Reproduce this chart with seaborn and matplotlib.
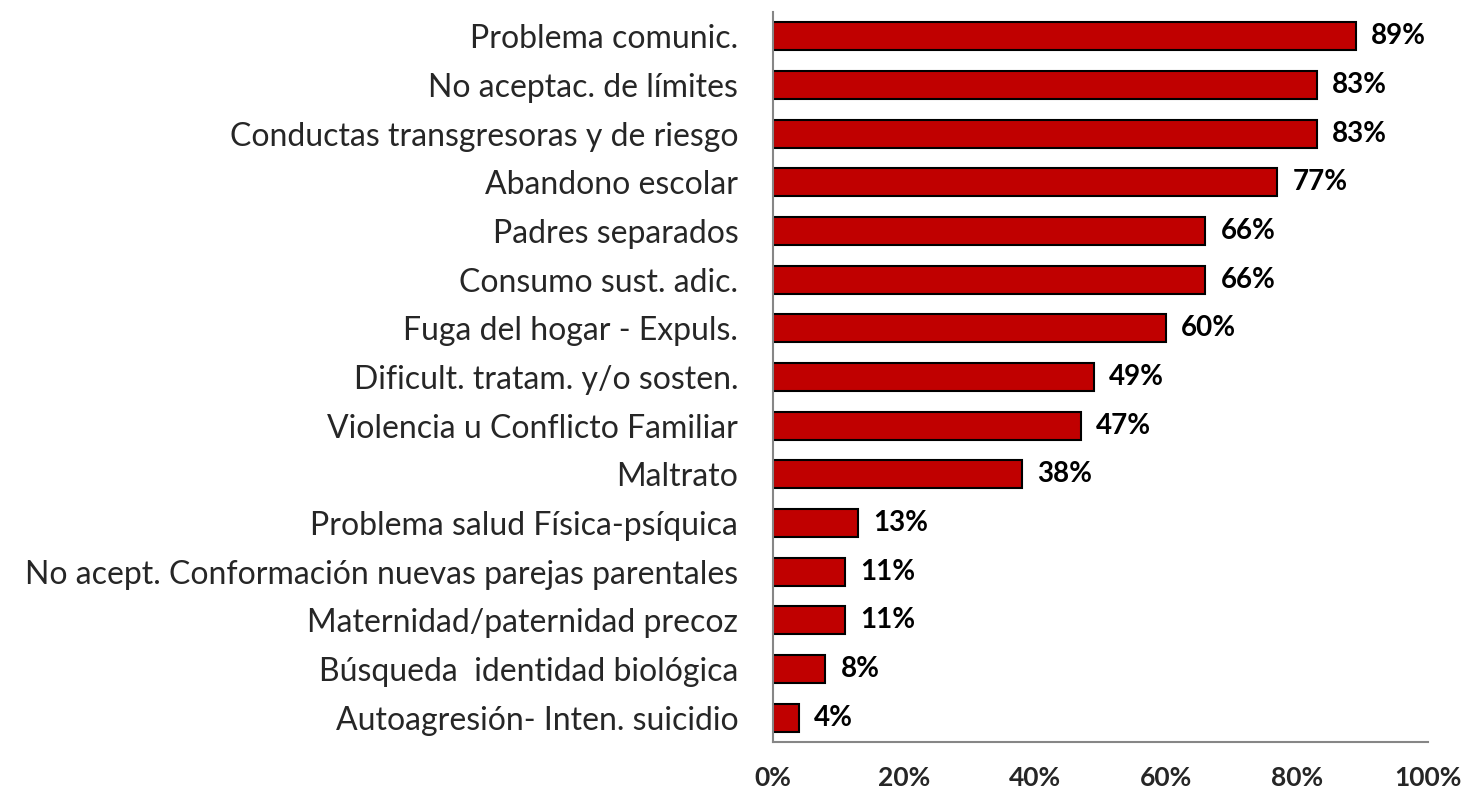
import matplotlib
matplotlib.use('Agg')
import matplotlib.pyplot as plt
import seaborn as sns
import pandas as pd

# Data
categories = [
    'Problema comunic.',
    'No aceptac. de límites',
    'Conductas transgresoras y de riesgo',
    'Abandono escolar',
    'Padres separados',
    'Consumo sust. adic.',
    'Fuga del hogar - Expuls.',
    'Dificult. tratam. y/o sosten.',
    'Violencia u Conflicto Familiar',
    'Maltrato',
    'Problema salud Física-psíquica',
    'No acept. Conformación nuevas parejas parentales',
    'Maternidad/paternidad precoz',
    'Búsqueda  identidad biológica',
    'Autoagresión- Inten. suicidio',
]
values = [89, 83, 83, 77, 66, 66, 60, 49, 47, 38, 13, 11, 11, 8, 4]
tick_vals = [0, 20, 40, 60, 80, 100]

df = pd.DataFrame({'cat': categories, 'val': values})

sns.set_style('white')
plt.rcParams['font.family'] = ['Lato', 'DejaVu Sans']

fig = plt.figure(figsize=(14.68, 7.96), dpi=100)
ax = fig.add_axes([0.5266, 0.0678, 0.4462, 0.9172])

sns.barplot(data=df, x='val', y='cat', color='#C00000', saturation=1,
            edgecolor='black', linewidth=1.5, width=0.58, ax=ax, orient='h')

for i, v in enumerate(values):
    ax.text(v + 2.3, i, f'{v}%', va='center', ha='left',
            fontsize=20, fontweight='bold', color='black')

ax.set_xlim(0, 100)
ax.set_ylim(14.5, -0.5)
ax.set_xticks(tick_vals)
ax.set_xticklabels([f'{t}%' for t in tick_vals], fontsize=19, fontweight='bold')
ax.set_xlabel('')
ax.set_ylabel('')
ax.tick_params(axis='x', length=0, pad=17)
ax.tick_params(axis='y', length=0, pad=25, labelsize=23)

for s in ['top', 'right']:
    ax.spines[s].set_visible(False)
for s in ['left', 'bottom']:
    ax.spines[s].set_color('#868686')
    ax.spines[s].set_linewidth(1.5)

fig.savefig('out.png', dpi=100)
